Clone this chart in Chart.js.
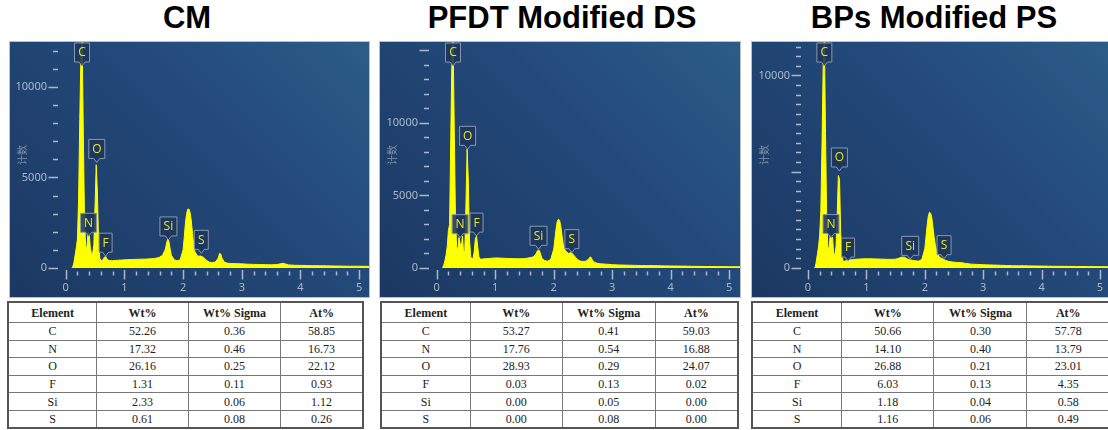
<!DOCTYPE html>
<html>
<head>
<meta charset="utf-8">
<script src="https://cdn.jsdelivr.net/npm/chart.js@4.4.1/dist/chart.umd.min.js"></script>
<style>
  body { margin: 0; width: 1108px; height: 430px; background: #fff; position: relative; overflow: hidden; }
  .title { position: absolute; top: 2px; transform: translateX(-50%); font: bold 31px 'Liberation Sans', Arial, sans-serif; line-height: 32px; color: #000; white-space: nowrap; }
  .panel { position: absolute; top: 42px; height: 255px; background: linear-gradient(225deg, #2c5c88 0%, #23497a 40%, #1c3862 100%); box-shadow: 0 0 0 1px rgba(120,130,140,0.5); }
  .panel canvas { display: block; }
  table.eds { position: absolute; top: 301px; border-collapse: collapse; table-layout: fixed; font: 12px 'Liberation Serif', 'Times New Roman', serif; color: #222; border: 2px solid #555; }
  table.eds td, table.eds th { border: 1px solid #777; text-align: center; padding: 0; line-height: 14px; }
  table.eds tr { height: 17.6px; }
  table.eds tr.head { height: 20.5px; }
  table.eds th { font-weight: bold; }
</style>
</head>
<body>
<div class="title" style="left:187px">CM</div>
<div class="title" style="left:562px">PFDT Modified DS</div>
<div class="title" style="left:934px">BPs Modified PS</div>

<div class="panel" style="left:10px;width:359px"><canvas id="c1" width="359" height="255"></canvas></div>
<div class="panel" style="left:380px;width:360px"><canvas id="c2" width="360" height="255"></canvas></div>
<div class="panel" style="left:752px;width:356px"><canvas id="c3" width="356" height="255"></canvas></div>

<table class="eds" id="t1" style="left:7px;width:357px"></table>
<table class="eds" id="t2" style="left:380px;width:359px"></table>
<table class="eds" id="t3" style="left:751px;width:360px"></table>

<script>
// energy grid (keV) shared by the three spectra
const energy = [0.10,0.12,0.14,0.16,0.18,0.20,0.22,0.24,0.26,0.28,0.30,0.32,0.34,0.36,0.38,0.40,0.42,0.44,0.46,0.48,
  0.50,0.52,0.54,0.56,0.58,0.60,0.62,0.64,0.66,0.68,0.70,0.72,0.74,0.76,0.78,0.80,
  0.85,0.90,0.95,1.00,1.05,1.10,1.15,1.20,1.25,1.30,1.35,1.40,1.45,1.50,1.55,1.60,1.65,1.70,
  1.72,1.74,1.76,1.78,1.80,1.85,1.90,1.95,2.00,
  2.02,2.04,2.06,2.08,2.10,2.12,2.14,2.16,2.18,2.20,
  2.25,2.30,2.35,2.40,2.45,2.50,2.55,2.60,2.62,2.64,2.66,2.70,2.75,2.80,
  2.90,3.00,3.10,3.20,3.30,3.40,3.50,3.60,3.70,3.80,3.90,4.00,4.20,4.40,4.60,4.80,5.00,5.20];

// counts
const countsCM = [0,50,300,700,1100,1600,3800,8200,11800,12500,7500,2800,1200,1100,2000,1900,1100,750,800,1300,
  3400,5700,4200,1500,550,400,430,480,600,640,520,440,420,410,420,400,
  420,430,440,450,460,470,470,480,480,490,490,500,510,520,550,600,700,1050,
  1400,1600,1450,1050,700,450,400,450,1000,
  1700,2500,3000,3250,3250,3050,2600,1900,1300,900,
  650,660,580,420,320,300,330,550,800,780,560,330,270,250,
  240,230,210,200,195,185,175,190,260,170,150,145,130,120,110,100,95,90];
const countsDS = [0,200,500,900,1500,2600,3000,9000,14500,15600,9500,3500,1500,1200,2100,1700,1400,2200,1000,1200,
  4500,8200,6000,2000,800,620,650,1100,2000,2200,1500,800,620,600,620,630,
  640,660,680,690,690,680,670,660,650,650,640,640,640,650,680,720,760,1000,
  1180,1250,1150,900,650,500,470,600,1300,
  2000,2700,3200,3360,3300,2900,2300,1700,1350,1200,
  1000,1060,850,600,480,450,470,620,760,730,560,380,320,290,
  260,230,210,200,190,180,170,165,170,155,145,140,130,115,105,95,90,85];
const countsPS = [0,0,300,700,1100,1700,3000,6500,10500,11800,7000,2500,1100,1000,1700,1500,1600,750,700,1100,
  2800,4800,4600,1800,600,360,350,370,400,420,400,420,430,440,440,450,
  460,470,480,480,480,480,470,470,460,460,450,450,450,460,500,560,560,470,
  440,430,420,400,390,370,360,450,1000,
  1600,2200,2700,2900,2850,2600,2100,1600,1200,900,
  560,480,400,350,320,300,290,280,280,270,260,240,220,200,
  185,170,160,150,140,130,120,115,115,110,105,100,90,85,80,75,70,65];

// peak markers
const peakNames = ['C', 'N', 'O', 'F', 'Si', 'S'];
const peakEnergyCM = [0.278, 0.39, 0.53, 0.68, 1.75, 2.31];
const peakEnergyDS = [0.278, 0.40, 0.528, 0.68, 1.74, 2.31];
const peakEnergyPS = [0.28, 0.394, 0.537, 0.686, 1.75, 2.33];
const peakTipCM = [null, 1750, 5830, 650, 1550, 810];
const peakTipDS = [null, 2090, 8180, 2200, 1290, 1060];
const peakTipPS = [null, 1580, 5040, 360, 450, 485];

// y tick labels shown
const yLabelsCM = [0, 5000, 10000];
const yLabelsDS = [0, 5000, 10000];
const yLabelsPS = [0, 10000];

// quantification tables
const tableHead = ['Element', 'Wt%', 'Wt% Sigma', 'At%'];
const wtCM = ['52.26', '17.32', '26.16', '1.31', '2.33', '0.61'];
const sigmaCM = ['0.36', '0.46', '0.25', '0.11', '0.06', '0.08'];
const atCM = ['58.85', '16.73', '22.12', '0.93', '1.12', '0.26'];
const wtDS = ['53.27', '17.76', '28.93', '0.03', '0.00', '0.00'];
const sigmaDS = ['0.41', '0.54', '0.29', '0.13', '0.05', '0.08'];
const atDS = ['59.03', '16.88', '24.07', '0.02', '0.00', '0.00'];
const wtPS = ['50.66', '14.10', '26.88', '6.03', '1.18', '1.16'];
const sigmaPS = ['0.30', '0.40', '0.21', '0.13', '0.04', '0.06'];
const atPS = ['57.78', '13.79', '23.01', '4.35', '0.58', '0.49'];

const tickColor = '#a9b9cb';

// axis tick marks + peak label boxes
const edsMarks = {
  id: 'edsMarks',
  afterDatasetsDraw(chart, args, opts) {
    const { ctx, chartArea, scales: { x, y } } = chart;
    ctx.save();
    ctx.strokeStyle = tickColor;
    ctx.lineWidth = 1.5;
    y.ticks.forEach(t => {
      const py = Math.round(y.getPixelForValue(t.value)) + 0.5;
      const len = t.value % 5000 === 0 ? 9.5 : 5;
      ctx.beginPath();
      ctx.moveTo(chartArea.left - len, py);
      ctx.lineTo(chartArea.left, py);
      ctx.stroke();
    });
    x.ticks.forEach(t => {
      const px = Math.round(x.getPixelForValue(t.value)) + 0.5;
      const major = Math.abs(t.value - Math.round(t.value)) < 1e-6;
      ctx.beginPath();
      ctx.moveTo(px, chartArea.bottom + (major ? 2 : 3.5));
      ctx.lineTo(px, chartArea.bottom + (major ? 11.5 : 7.5));
      ctx.stroke();
    });

    ctx.font = '12px "Open Sans", "Noto Sans", sans-serif';
    ctx.textAlign = 'center';
    ctx.textBaseline = 'middle';
    ctx.lineWidth = 1;
    opts.names.forEach((name, i) => {
      const px = x.getPixelForValue(opts.energy[i]);
      const tip = opts.tips[i];
      const tipY = tip === null ? chartArea.top + 24 : y.getPixelForValue(tip);
      const w = Math.round(ctx.measureText(name).width) + 7;
      const bottom = tipY - 4;
      const top = bottom - 19;
      const l = px - w / 2, r = px + w / 2;
      ctx.beginPath();
      ctx.moveTo(l, top);
      ctx.lineTo(r, top);
      ctx.lineTo(r, bottom);
      ctx.lineTo(px + 3, bottom);
      ctx.lineTo(px, tipY);
      ctx.lineTo(px - 3, bottom);
      ctx.lineTo(l, bottom);
      ctx.closePath();
      ctx.fillStyle = 'rgba(28, 54, 90, 0.88)';
      ctx.fill();
      ctx.strokeStyle = '#8799b0';
      ctx.stroke();
      ctx.fillStyle = '#e4e43a';
      ctx.fillText(name, px, top + 10);
    });
    ctx.restore();
  }
};

function stepTicks(from, to, step) {
  const out = [];
  for (let k = 0; from + k * step <= to + 1e-9; k++) {
    out.push({ value: Math.round((from + k * step) * 1000) / 1000 });
  }
  return out;
}

function drawSpectrum(id, counts, xr, yMax, yStep, yLabels, yWidth, peakEnergy, peakTip) {
  new Chart(document.getElementById(id), {
    type: 'line',
    data: {
      datasets: [{
        data: energy.map((e, i) => ({ x: e, y: counts[i] })),
        borderColor: '#ffff00',
        backgroundColor: '#ffff00',
        borderWidth: 1,
        pointRadius: 0,
        tension: 0,
        fill: 'origin'
      }]
    },
    options: {
      responsive: false,
      animation: false,
      layout: { padding: 0 },
      plugins: {
        legend: { display: false },
        tooltip: { enabled: false },
        edsMarks: { names: peakNames, energy: peakEnergy, tips: peakTip }
      },
      scales: {
        x: {
          type: 'linear',
          min: xr[0],
          max: xr[1],
          afterFit: s => { s.height = 29; s.paddingLeft = 0; s.paddingRight = 0; },
          afterBuildTicks: s => { s.ticks = stepTicks(0, xr[1], 0.2); },
          grid: { display: false, drawTicks: false },
          border: { display: false },
          ticks: {
            autoSkip: false,
            maxRotation: 0,
            padding: 13,
            color: tickColor,
            font: { size: 11, family: 'Noto Sans' },
            callback: v => Math.abs(v - Math.round(v)) < 1e-6 ? String(Math.round(v)) : ''
          }
        },
        y: {
          min: 0,
          max: yMax,
          afterFit: s => { s.width = yWidth; s.paddingTop = 0; s.paddingBottom = 0; },
          afterBuildTicks: s => { s.ticks = stepTicks(0, yMax, yStep); },
          grid: { display: false, drawTicks: false },
          border: { display: false },
          title: {
            display: true,
            text: '计数',
            color: '#7f91a8',
            font: { size: 10, family: 'Noto Sans CJK SC' },
            padding: { top: 6, bottom: 0 }
          },
          ticks: {
            autoSkip: false,
            padding: 11,
            color: tickColor,
            font: { size: 11, family: 'Noto Sans' },
            callback: v => yLabels.includes(v) ? String(v) : ''
          }
        }
      }
    },
    plugins: [edsMarks]
  });
}

function fillTable(id, wt, sigma, at) {
  const t = document.getElementById(id);
  const widths = ['25%', '25.8%', '26%', '23.2%'];
  let html = '<colgroup>' + widths.map(w => '<col style="width:' + w + '">').join('') + '</colgroup>';
  html += '<tr class="head">' + tableHead.map(h => '<th>' + h + '</th>').join('') + '</tr>';
  peakNames.forEach((el, i) => {
    html += '<tr><td>' + el + '</td><td>' + wt[i] + '</td><td>' + sigma[i] + '</td><td>' + at[i] + '</td></tr>';
  });
  t.innerHTML = html;
}

drawSpectrum('c1', countsCM, [-0.131, 5.167], 12480, 1000, yLabelsCM, 48, peakEnergyCM, peakTipCM);
drawSpectrum('c2', countsDS, [-0.132, 5.184], 15580, 1000, yLabelsDS, 49, peakEnergyDS, peakTipDS);
drawSpectrum('c3', countsPS, [-0.12, 5.137], 11740, 500, yLabelsPS, 49, peakEnergyPS, peakTipPS);

fillTable('t1', wtCM, sigmaCM, atCM);
fillTable('t2', wtDS, sigmaDS, atDS);
fillTable('t3', wtPS, sigmaPS, atPS);
</script>
</body>
</html>
